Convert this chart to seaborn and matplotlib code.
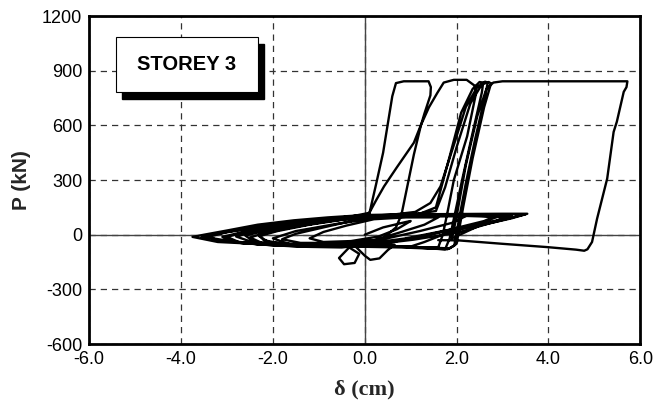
import numpy as np
import pandas as pd
import matplotlib
matplotlib.use("Agg")
import matplotlib.pyplot as plt
import seaborn as sns
from matplotlib.patches import Rectangle

# ---- data ----
# phase 1: small cycles before first large excursion
small1_d = [0.0, 0.4, 0.9, 1.0, 0.7, 0.3, -0.3, -0.9, -1.2, -0.9, -0.4, 0.2, 0.9, 1.6,
            1.3, 0.8, 0.2, -0.6, -1.4, -1.8, -1.5, -0.9, -0.2, 0.6, 1.5, 2.2,
            1.9, 1.2, 0.4, -0.5, -1.5, -2.2, -2.5, -2.1, -1.4, -0.6, 0.2, 1.2, 2.4, 2.9,
            2.6, 1.8, 0.9, 0.0, -1.1, -2.2, -2.7, -3.0]
small1_p = [0, 40, 70, 75, 30, -10, -35, -40, -20, 15, 50, 85, 95, 95,
            55, 15, -30, -45, -45, -25, 5, 40, 80, 100, 100, 102,
            65, 20, -25, -50, -55, -50, -15, 15, 50, 80, 100, 105, 105, 108,
            75, 25, -20, -50, -60, -55, -45, -12]
# phase 2: first large loop (peak plateau ~0.7-1.4 cm)
loopA_d = [-2.6, -1.8, -1.0, -0.3, 0.1, 0.25, 0.4, 0.6, 0.68, 0.85, 1.39, 1.44, 1.43,
           1.3, 1.22, 1.07, 0.93, 0.8, 0.68, 0.4, 0.0]
loopA_p = [15, 45, 75, 95, 115, 280, 450, 760, 832, 842, 842, 810, 765,
           665, 597, 440, 268, 110, 40, -20, -50]
# phase 3: widest small cycles with the lobe below zero
small2_d = [-0.3, -0.56, -0.45, -0.22, -0.12, -0.4, -1.2, -2.4, -3.2, -3.75,
            -3.5, -2.98, -2.33, -1.54, -0.8, 0.0, 1.0, 2.2, 3.0, 3.54,
            3.3, 2.74, 2.03, 1.07, 0.3, -0.2, 0.0, 0.12, 0.32, 0.5, 0.65,
            0.1, -0.8, -1.8, -2.4, -2.6, -2.2, -1.4, -0.5, 0.1]
small2_p = [-60, -128, -162, -155, -105, -60, -60, -50, -40, -12,
            0, 24, 55, 79, 95, 108, 112, 114, 115, 115,
            100, 64, 12, -27, -50, -65, -115, -138, -130, -85, -55,
            -50, -55, -50, -40, -5, 20, 55, 90, 120]
# phase 4: second large loop (plateau ~1.7-2.2 cm)
loopB_d = [0.25, 0.42, 0.7, 1.07, 1.22, 1.4, 1.58, 1.72, 1.94, 2.22, 2.41, 2.41,
           2.23, 1.94, 1.8, 1.7, 1.6]
loopB_p = [190, 265, 370, 505, 600, 700, 778, 835, 850, 850, 815, 760,
           540, 300, 120, 0, -70]
# phase 5: more small cycles
small3_d = [1.0, 0.2, -0.8, -1.6, -2.1, -2.3, -1.9, -1.2, -0.4, 0.4, 1.3, 2.1, 2.7, 3.2,
            2.9, 2.3, 1.5, 0.7, -0.2, -1.2, -2.0, -2.7, -3.3, -3.55,
            -3.2, -2.6, -1.8, -1.0, -0.2, 0.8, 1.8, 2.6, 3.1,
            2.8, 2.0, 1.2, 0.4, -0.5, -1.4, -2.2, -2.9, -3.1,
            -2.7, -2.0, -1.1, -0.3, 0.6, 1.4, 2.3, 2.9, 2.5, 1.8, 1.3]
small3_p = [-68, -62, -58, -52, -40, -8, 20, 55, 85, 100, 108, 110, 112, 104,
            80, 45, 5, -35, -62, -65, -58, -45, -20, -14,
            5, 30, 62, 85, 102, 108, 106, 100, 95,
            70, 35, -10, -45, -70, -66, -55, -38, -12,
            12, 42, 75, 95, 105, 108, 106, 100, 60, 10, -40]
# phase 6: cycles reaching ~2.5-2.75 cm
loopC_d = [1.0, 0.0, -1.0, -2.0, -3.2, -3.4, -3.0, -2.2, -1.2, -0.2, 0.6, 1.1,
           1.43, 1.65, 1.95, 2.2, 2.45, 2.62, 2.68, 2.62, 2.4, 2.2, 2.05, 1.95, 1.8,
           0.8, -0.3, -1.2, -2.0, -2.4, -2.8, -2.3, -1.4, -0.5, 0.5, 1.2, 1.55,
           1.85, 2.1, 2.35, 2.5, 2.58, 2.55, 2.35, 2.12, 1.95, 1.85, 1.75,
           0.5, -0.8, -1.8, -2.2, -2.3, -1.8, -0.9, 0.0, 1.0, 1.55,
           1.75, 2.0, 2.3, 2.55, 2.7, 2.75, 2.6, 2.35, 2.15, 2.0, 1.85,
           0.8, -0.5, -1.6, -2.0, -1.5, -0.6, 0.3, 1.2, 2.0, 2.8, 3.5,
           3.2, 2.5, 1.9]
loopC_p = [-65, -60, -60, -55, -30, -12, 15, 50, 80, 100, 110, 125,
           174, 265, 500, 700, 810, 840, 835, 760, 520, 280, 80, -60, -80,
           -70, -65, -62, -55, -45, -10, 25, 60, 90, 105, 115, 150,
           430, 670, 800, 838, 835, 780, 560, 300, 100, -20, -80,
           -60, -55, -50, -30, 0, 30, 70, 100, 110, 130,
           260, 480, 720, 825, 838, 830, 700, 420, 160, -50, -75,
           -65, -60, -55, -20, 20, 60, 95, 110, 112, 112, 112,
           90, 50, -20]
# phase 7: final large loop (plateau to ~5.7 cm)
loopD_d = [2.0, 2.2, 2.45, 2.65, 2.8, 3.0, 5.72, 5.7, 5.64, 5.49, 5.42, 5.28, 5.06,
           4.95, 4.85, 4.78, 4.6, 3.97, 3.0, 2.03, 1.6]
loopD_p = [100, 380, 650, 800, 835, 842, 842, 810, 784, 620, 564, 308, 88,
           -40, -80, -88, -82, -68, -50, -31, -30]

x_ticks = [-6, -4, -2, 0, 2, 4, 6]
x_labels = ["-6.0", "-4.0", "-2.0", "0.0", "2.0", "4.0", "6.0"]
y_ticks = [-600, -300, 0, 300, 600, 900, 1200]
y_labels = ["-600", "-300", "0", "300", "600", "900", "1200"]

delta = small1_d + loopA_d + small2_d + loopB_d + small3_d + loopC_d + loopD_d
force = small1_p + loopA_p + small2_p + loopB_p + small3_p + loopC_p + loopD_p
df = pd.DataFrame({"delta": delta, "P": force})

sns.set_theme(style="white")
plt.rcParams["font.family"] = ["Liberation Sans", "DejaVu Sans"]

fig, ax = plt.subplots(figsize=(6.56, 4.12), dpi=100)
fig.subplots_adjust(left=0.136, right=0.976, top=0.961, bottom=0.165)

ax.set_xlim(-6, 6)
ax.set_ylim(-600, 1200)
ax.set_xticks(x_ticks)
ax.set_xticklabels(x_labels)
ax.set_yticks(y_ticks)
ax.set_yticklabels(y_labels)
ax.grid(True, linestyle=(0, (5, 4)), color="#333333", linewidth=0.9)
ax.axhline(0, color="#444444", linewidth=1.0, zorder=1.5)
ax.axvline(0, color="#444444", linewidth=1.0, zorder=1.5)

sns.lineplot(data=df, x="delta", y="P", sort=False, estimator=None,
             color="black", linewidth=1.7, ax=ax, zorder=3)

for s in ax.spines.values():
    s.set_linewidth(2.0)
    s.set_color("black")
ax.tick_params(axis="both", length=0, pad=5, labelsize=13, colors="black")

ax.set_xlabel("δ (cm)", fontsize=16, fontweight="bold",
              family=["Liberation Serif", "DejaVu Serif"], labelpad=8)
ax.set_ylabel("P (kN)", fontsize=15, fontweight="bold", labelpad=8)

# text box with shadow
ax.add_patch(Rectangle((0.060, 0.746), 0.258, 0.168, transform=ax.transAxes,
                       facecolor="black", edgecolor="black", zorder=5, clip_on=False))
ax.add_patch(Rectangle((0.048, 0.767), 0.258, 0.168, transform=ax.transAxes,
                       facecolor="white", edgecolor="black", linewidth=0.8,
                       zorder=6, clip_on=False))
ax.text(0.177, 0.851, "STOREY 3", transform=ax.transAxes, ha="center", va="center",
        fontsize=14.5, fontweight="bold", color="black", zorder=7)

fig.savefig("out.png", dpi=100)
